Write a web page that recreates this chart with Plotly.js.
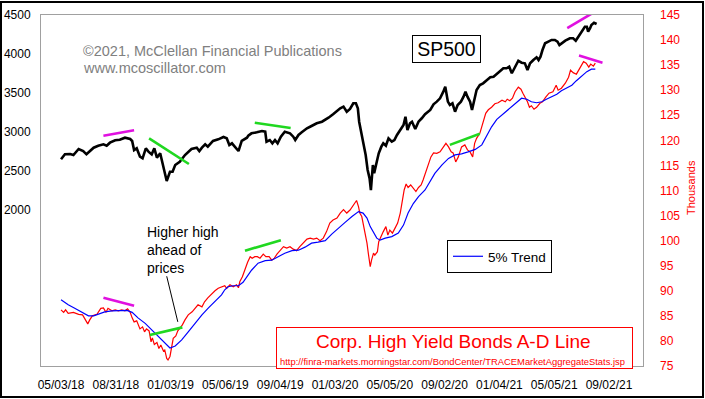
<!DOCTYPE html>
<html><head><meta charset="utf-8">
<script src="https://cdn.plot.ly/plotly-3.0.1.min.js"></script>
<style>
html,body{margin:0;padding:0;background:#fff;}
#chart{position:absolute;left:0;top:0;width:705px;height:399px;}
#frame{position:absolute;left:0;top:1px;width:704px;height:397px;border:2px solid #000;box-sizing:border-box;pointer-events:none;z-index:10;}
</style></head><body>
<div id="chart"></div><div id="frame"></div>
<script>
// x values are trading days counted from 05/03/18
var tickDays = [0, 84, 168, 252, 336, 420, 504, 588, 672, 756, 840];
var tickLabels = ['05/03/18','08/31/18','01/03/19','05/06/19','09/04/19','01/03/20','05/05/20','09/02/20','01/04/21','05/05/21','09/02/21'];
var spxTicks = [2000, 2500, 3000, 3500, 4000, 4500];
var hyTicks = [75,80,85,90,95,100,105,110,115,120,125,130,135,140,145];

var spxDays = [0,6,14,19,27,34,39,44,50,57,65,70,75,83,90,98,106,109,112,116,121,125,130,134,139,143,147,152,157,162,167,171,175,182,190,195,200,208,212,216,221,225,233,241,249,254,258,262,267,272,277,285,287,292,300,308,313,315,320,324,328,332,337,343,351,356,359,364,369,377,384,392,400,405,410,417,425,428,433,438,443,448,452,455,457,460,463,467,470,473,475,478,480,484,487,491,494,498,502,507,511,515,520,525,528,531,535,538,543,548,553,558,566,571,576,581,586,589,593,596,600,604,608,613,617,620,623,627,630,634,637,642,647,653,658,663,668,673,678,683,687,691,696,701,706,711,715,719,724,729,732,735,738,742,747,752,757,761,764,767,773,780,785,789,793,798,803,806,808,811,813,817,821];
var spxValues = [2650,2714,2718,2705,2782,2756,2714,2748,2799,2824,2842,2824,2863,2894,2901,2927,2910,2885,2769,2791,2683,2663,2791,2748,2714,2791,2671,2727,2535,2372,2491,2491,2577,2619,2705,2748,2782,2799,2756,2799,2842,2812,2885,2906,2936,2919,2833,2855,2812,2756,2885,2927,2953,2983,2996,3013,3004,2876,2897,2855,2897,2855,2940,3004,2983,2940,2897,2962,2996,3047,3077,3112,3132,3154,3183,3227,3282,3304,3325,3260,3295,3368,3368,3304,3132,2983,2876,2705,2513,2406,2256,2577,2470,2619,2727,2812,2855,2824,2919,2876,2897,2962,3026,3090,3196,3026,3112,3132,3039,3132,3176,3227,3282,3355,3389,3432,3517,3581,3389,3346,3368,3260,3346,3389,3453,3517,3453,3389,3282,3432,3539,3603,3624,3667,3701,3709,3744,3773,3817,3817,3837,3753,3837,3914,3889,3881,3795,3881,3923,3958,3923,3966,4051,4137,4158,4180,4180,4158,4115,4137,4171,4201,4201,4171,4222,4286,4350,4350,4286,4330,4372,4401,4385];

// Corp. High Yield Bonds A-D Line (thousands)
var hyDays = [0,4,7,11,19,27,33,37,41,44,48,55,58,61,65,69,72,78,83,88,93,98,102,106,109,112,116,118,121,125,128,131,135,138,140,143,147,150,153,157,159,162,164,167,170,172,176,179,182,186,190,195,201,205,210,216,220,225,228,232,236,241,246,251,254,259,264,269,272,274,278,282,286,290,293,297,301,305,310,314,319,323,327,331,336,341,346,351,356,361,366,371,377,382,387,392,397,402,407,412,417,423,428,433,438,443,448,453,456,458,461,463,466,469,471,474,476,479,481,485,487,491,494,498,501,504,508,512,516,520,523,526,529,532,536,540,544,548,552,555,559,563,567,571,576,581,586,590,594,598,601,605,609,614,619,623,627,631,634,637,642,647,651,655,660,665,670,676,681,684,688,692,696,701,705,708,711,715,718,721,725,729,734,738,743,748,754,759,762,767,773,778,781,785,790,796,801,805,809,812,816,819];
var hyValues = [86.2,85.7,86.2,85.5,85.7,85.3,85.2,84.4,83.4,84.2,85.0,85.3,85.8,86.5,86.6,85.7,86.5,86.0,86.2,86.0,86.2,86.0,86.4,85.7,84.6,83.8,84.0,83.2,82.4,82.8,81.8,82.4,82.0,79.8,80.6,79.3,79.7,78.5,79.2,78.0,78.2,76.5,76.2,76.9,79.2,80.5,81.0,82.0,82.5,83.2,84.2,85.2,85.8,86.4,87.2,86.8,87.8,88.6,89.0,89.5,90.0,90.5,90.8,91.0,90.5,91.2,90.8,91.2,90.6,91.8,92.8,94.3,95.7,96.8,96.5,96.8,96.8,96.5,97.3,96.8,96.8,96.1,96.5,97.3,98.1,98.8,98.5,98.8,98.3,98.0,98.8,99.5,100.3,100.5,100.3,100.5,100.0,100.5,101.8,103.5,104.1,104.5,105.5,106.2,105.5,106.1,107.1,108.0,106.8,105.5,104.8,103.5,101.5,99.5,97.5,94.8,96.1,97.5,97.1,97.8,99.8,101.1,101.8,102.8,101.1,102.1,101.5,102.5,103.5,105.5,108.1,110.1,111.3,110.6,111.1,110.4,109.8,110.6,111.1,112.1,113.7,114.9,116.7,117.5,117.4,117.7,118.6,119.4,118.7,117.7,117.5,115.7,116.7,118.7,119.1,118.1,117.7,116.7,119.4,120.4,121.4,123.4,125.4,126.1,126.6,127.3,127.5,128.0,127.7,128.2,127.9,128.4,129.7,130.6,130.2,129.4,128.7,127.7,126.6,126.9,126.2,126.6,127.4,127.7,128.6,129.4,129.7,131.0,130.0,130.4,131.4,132.6,134.0,133.5,133.2,134.6,135.7,135.4,134.6,135.2,134.8,135.4];

// 5% Trend
var trendDays = [0,11,21,32,42,50,57,67,78,88,101,109,118,129,139,149,159,167,175,185,195,205,216,226,236,246,251,256,264,272,279,282,292,302,313,323,333,343,354,364,374,384,394,405,415,425,435,446,456,463,469,474,479,484,489,497,507,517,525,532,540,548,558,566,573,584,594,604,614,624,635,645,652,660,668,676,683,691,699,706,714,721,729,737,744,752,760,767,775,783,790,798,806,813,819];
var trendValues = [88.2,87.2,86.5,85.8,85.0,85.0,85.3,85.8,86.0,86.0,86.1,85.7,84.6,83.5,82.2,80.8,79.5,78.6,79.0,80.2,81.8,83.5,85.2,86.6,88.0,89.2,90.2,90.8,91.0,91.0,91.7,92.2,94.1,95.5,96.0,96.1,96.8,97.5,98.0,98.1,98.7,99.5,99.7,100.0,101.3,102.5,103.6,104.8,105.8,105.5,104.5,102.8,101.5,100.5,100.1,100.5,100.8,101.5,103.1,105.5,107.4,108.8,110.1,111.8,113.4,115.1,116.4,117.1,117.3,117.7,118.2,119.1,120.7,122.7,124.2,125.1,125.7,126.6,127.5,128.4,128.2,127.7,127.5,127.7,128.2,128.7,129.2,129.9,130.4,131.0,131.9,132.8,133.7,134.2,134.2];

// hand-drawn divergence segments
var spxSegDays = [[65,112],[135,196],[297,352],[776,821]];
var spxSegValues = [[2953,3022],[2919,2590],[3119,3051],[4333,4555]];
var spxSegKinds = ['m','g','g','m'];
var hySegDays = [[65,112],[136,186],[282,337],[596,642],[794,830]];
var hySegValues = [[88.6,87.0],[81.2,82.7],[98.0,100.1],[119.1,121.3],[136.9,135.5]];
var hySegKinds = ['m','g','g','g','m'];
var calloutDays = [162, 179];
var calloutValues = [92.9, 83.8];
var calloutText = 'Higher high<br>ahead of<br>prices';

var FONT = '"Liberation Sans", Arial, sans-serif';
var L = 41, T = 15, R = 643, B = 366;
function fx(x){ return (x - L) / (R - L); }
function fy(y){ return (B - y) / (B - T); }
var SEGCOL = {m:'#e010e0', g:'#20d820'};

var traces = [];
traces.push({x: hyDays, y: hyValues, yaxis:'y2', type:'scatter', mode:'lines', line:{color:'#ff0000', width:1.2}, showlegend:false, hoverinfo:'skip'});
traces.push({x: trendDays, y: trendValues, yaxis:'y2', type:'scatter', mode:'lines', name:'5% Trend', line:{color:'#0000ff', width:1.2}, showlegend:true, hoverinfo:'skip'});
traces.push({x: spxDays, y: spxValues, yaxis:'y', type:'scatter', mode:'lines', line:{color:'#000000', width:2.6}, showlegend:false, hoverinfo:'skip'});
spxSegDays.forEach(function(d, i){
  traces.push({x: d, y: spxSegValues[i], yaxis:'y', type:'scatter', mode:'lines', line:{color:SEGCOL[spxSegKinds[i]], width:2.6}, showlegend:false, hoverinfo:'skip'});
});
hySegDays.forEach(function(d, i){
  traces.push({x: d, y: hySegValues[i], yaxis:'y2', type:'scatter', mode:'lines', line:{color:SEGCOL[hySegKinds[i]], width:2.6}, showlegend:false, hoverinfo:'skip'});
});
traces.push({x: calloutDays, y: calloutValues, yaxis:'y2', type:'scatter', mode:'lines', line:{color:'#000000', width:1}, showlegend:false, hoverinfo:'skip'});

var layout = {
  width: 705, height: 399,
  margin: {l: L, r: 705 - R, t: T, b: 399 - B, pad: 0},
  paper_bgcolor: 'rgba(0,0,0,0)', plot_bgcolor: '#ffffff',
  font: {family: FONT, size: 12, color: '#000'},
  showlegend: true,
  xaxis: {range: [-30.7, 892.1], tickmode:'array', tickvals: tickDays, ticktext: tickLabels,
    showgrid:false, zeroline:false, showline:true, mirror:true, linecolor:'#a0a0a0', linewidth:1,
    ticks:'', ticklabelstandoff: 8, tickfont:{size:12, color:'#000'}},
  yaxis: {range: [0, 4500], tickmode:'array', tickvals: spxTicks, ticktext: spxTicks.map(String),
    showgrid:false, zeroline:false, showline:true, mirror:true, linecolor:'#a0a0a0', linewidth:1,
    ticks:'', ticklabelstandoff: 7, tickfont:{size:12, color:'#000'}},
  yaxis2: {range: [75, 145], overlaying:'y', side:'right', tickmode:'array', tickvals: hyTicks, ticktext: hyTicks.map(String),
    showgrid:false, zeroline:false, showline:false, ticks:'', ticklabelstandoff: 16, tickfont:{size:12, color:'#ff0000'}},
  legend: {x: fx(552), xanchor:'right', y: fy(240), yanchor:'top', bgcolor:'#ffffff', bordercolor:'#000000', borderwidth:1,
    font:{size:13.5, color:'#000'}, itemwidth:30},
  annotations: [
    {xref:'paper', yref:'paper', x: fx(81.7), y: fy(50.7), xanchor:'left', yanchor:'middle', showarrow:false, borderpad:0,
     text:'©2021, McClellan Financial Publications', font:{size:14.5, color:'#808080'}},
    {xref:'paper', yref:'paper', x: fx(81.7), y: fy(68.3), xanchor:'left', yanchor:'middle', showarrow:false, borderpad:0,
     text:'www.mcoscillator.com', font:{size:14.5, color:'#808080'}},
    {xref:'paper', yref:'paper', x: fx(446.5), y: fy(49), xanchor:'center', yanchor:'middle', showarrow:false,
     text:'SP500', font:{size:19.5, color:'#000'}, bordercolor:'#000', borderwidth:1, borderpad:0, bgcolor:'#fff', width:67, height:26},
    {xref:'paper', yref:'paper', x: fx(454.5), y: fy(348), xanchor:'center', yanchor:'middle', showarrow:false,
     text:'', bordercolor:'#ff0000', borderwidth:1, borderpad:0, bgcolor:'#fff', width:355, height:40},
    {xref:'paper', yref:'paper', x: fx(453.8), y: fy(341.7), xanchor:'center', yanchor:'middle', showarrow:false, borderpad:0,
     text:'Corp. High Yield Bonds A-D Line', font:{size:19, color:'#ff0000'}},
    {xref:'paper', yref:'paper', x: fx(452.7), y: fy(361), xanchor:'center', yanchor:'middle', showarrow:false, borderpad:0,
     text:'http://finra-markets.morningstar.com/BondCenter/TRACEMarketAggregateStats.jsp', font:{size:9.4, color:'#ff0000'}},
    {xref:'x', yref:'y2', x: 130, y: 98.2, xanchor:'left', yanchor:'middle', align:'left', showarrow:false, borderpad:0,
     text: calloutText, font:{size:14, color:'#000'}},
    {xref:'paper', yref:'paper', x: fx(691), y: fy(188), xanchor:'center', yanchor:'middle', showarrow:false, borderpad:0,
     text:'Thousands', textangle:-90, font:{size:11, color:'#ff0000'}}
  ]
};

Plotly.newPlot('chart', traces, layout, {displayModeBar:false, staticPlot:true});
</script></body></html>
